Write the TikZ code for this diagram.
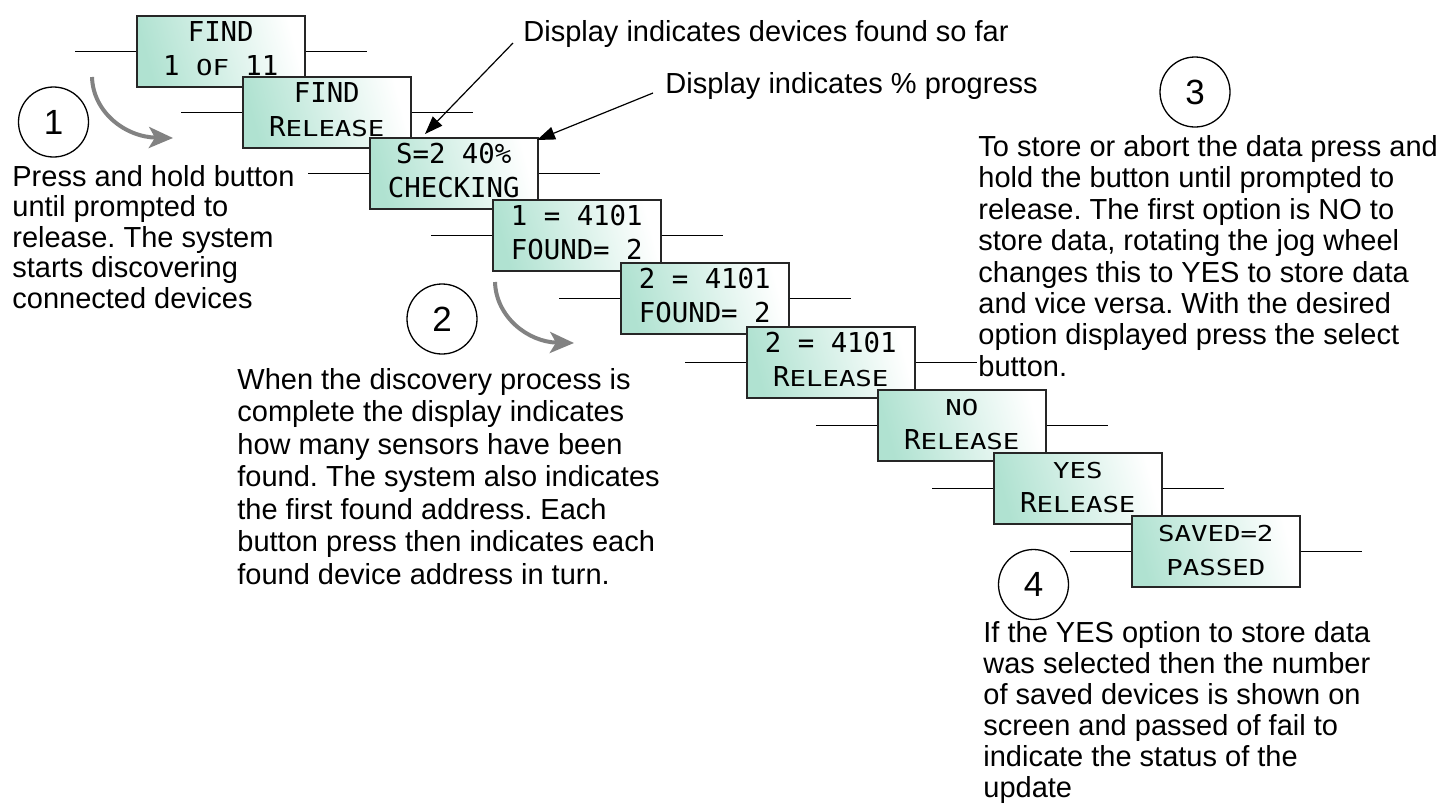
\documentclass[tikz,border=0pt]{standalone}
\usepackage{fontspec}
\usepackage{graphicx}
\setmainfont{Liberation Sans}
\newfontfamily\lcdfont{DejaVu Sans Mono}
\usetikzlibrary{arrows.meta,calc}
\definecolor{mint}{RGB}{176,226,209}
\definecolor{arrowgray}{RGB}{130,130,130}
\newcommand\sq[1]{\scalebox{1}[0.8]{#1}}
\frenchspacing
\tikzset{
  lcd/.style={rectangle, draw=black!85, line width=0.75pt, left color=mint, right color=white,
    shading angle=105, minimum width=84pt, minimum height=35.5pt, inner sep=0pt, anchor=north west},
  lcdtxt/.style={font=\lcdfont\fontsize{13.7}{13.7}\selectfont, inner sep=0pt, anchor=base},
  conn/.style={draw=black, line width=0.6pt},
  body/.style={align=left, inner sep=0pt, anchor=north west},
  numcirc/.style={circle, draw=black, line width=0.65pt, minimum size=35pt, inner sep=0pt,
    font=\fontsize{17.5}{17.5}\selectfont},
  grayarrow/.style={draw=arrowgray, line width=2pt, -{Stealth[length=12pt,width=10.5pt,inset=3pt]}},
  pointer/.style={draw=black, line width=0.6pt, -{Triangle[length=9pt,width=6.5pt]}},
}
\newcommand\lcdbox[5]{%
  \node[lcd] (#1) at (#2,#3) {};
  \node[lcdtxt] (#1a) at ($(#1.north)+(0,26)$) {#4};
  \node[lcdtxt] (#1b) at ($(#1.north)+(0,60.5)$) {#5};
  \coordinate (#1L) at ($(#1.west)+(-61,0)$);
  \coordinate (#1R) at ($(#1.east)+(61,0)$);
  \draw[conn] (#1L) -- (#1.west);
  \draw[conn] (#1.east) -- (#1R);
}
\begin{document}
\begin{tikzpicture}[x=0.5pt,y=-0.5pt]
\useasboundingbox (0,0) rectangle (1451,810);

\lcdbox{b1}{136}{15}{FIND}{1 \sq{OF} 11}
\lcdbox{b2}{242}{76}{FIND}{R\sq{ELEASE}}
\lcdbox{b3}{369}{137}{S=2 40\%}{CHECKING}
\lcdbox{b4}{492}{199}{1 = 4101}{FOUND= 2}
\lcdbox{b5}{620}{262}{2 = 4101}{FOUND= 2}
\lcdbox{b6}{746}{326}{2 = 4101}{R\sq{ELEASE}}
\lcdbox{b7}{877}{389}{\sq{NO}}{R\sq{ELEASE}}
\lcdbox{b8}{993}{452}{\sq{YES}}{R\sq{ELEASE}}
\lcdbox{b9}{1131}{515}{\sq{SAVED=2}}{\sq{PASSED}}

% numbered circles
\node[numcirc] (c1) at (53.5,122) {1};
\node[numcirc] (c2) at (442,319) {2};
\node[numcirc] (c3) at (1195,92) {3};
\node[numcirc] (c4) at (1033.5,584.5) {4};

% gray curved arrows
\coordinate (g1s) at (92,77);
\coordinate (g1e) at (173,138);
\draw[grayarrow] (g1s) .. controls (93,112) and (125,137) .. (g1e);
\coordinate (g2s) at (495,282);
\coordinate (g2e) at (574,343);
\draw[grayarrow] (g2s) .. controls (496,317) and (528,342) .. (g2e);

% annotations
\node[body, font=\fontsize{14.5}{15.7}\selectfont] (n1) at (523,20) {Display indicates devices found so far};
\node[body, font=\fontsize{14.5}{15.7}\selectfont] (n2) at (665,72) {Display indicates \% progress};
\coordinate (p1s) at (513,43);
\coordinate (p1e) at (425,134);
\draw[pointer] (p1s) -- (p1e);
\coordinate (p2s) at (653,93);
\coordinate (p2e) at (537,140);
\draw[pointer] (p2s) -- (p2e);

% body texts
\node[body, font=\fontsize{14.5}{15.2}\selectfont] (t1) at (12,165)
  {Press and hold button\\until prompted to\\release. The system\\starts discovering\\connected devices};
\node[body, font=\fontsize{14.5}{16.25}\selectfont] (t2) at (237,368)
  {When the discovery process is\\complete the display indicates\\how many sensors have been\\found. The system also indicates\\the first found address. Each\\button press then indicates each\\found device address in turn.};
\node[body, font=\fontsize{14.5}{15.7}\selectfont] (t3) at (978,135)
  {To store or abort the data press and\\hold the button until prompted to\\release. The first option is NO to\\store data, rotating the jog wheel\\changes this to YES to store data\\and vice versa. With the desired\\option displayed press the select\\button.};
\node[body, font=\fontsize{14.5}{15.5}\selectfont] (t4) at (983,621)
  {If the YES option to store data\\was selected then the number\\of saved devices is shown on\\screen and passed of fail to\\indicate the status of the\\update};
\end{tikzpicture}
\end{document}
